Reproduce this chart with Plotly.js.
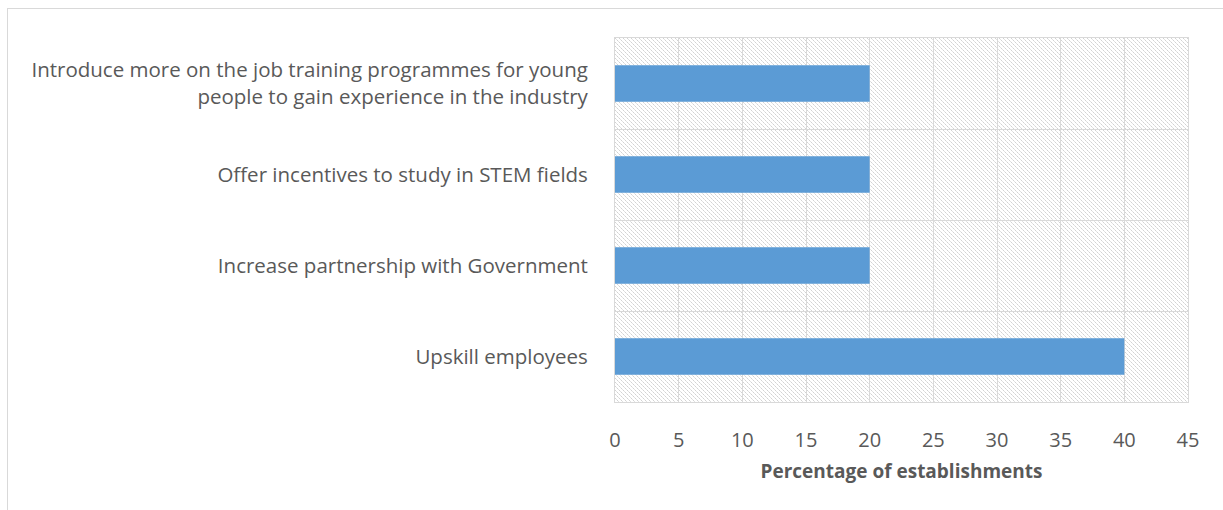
<!DOCTYPE html>
<html>
<head>
<meta charset="utf-8">
<script src="https://cdn.plot.ly/plotly-3.0.1.min.js"></script>
<style>
html,body{margin:0;padding:0;background:#fff;}
#chart{width:1223px;height:510px;}
</style>
</head>
<body>
<div id="chart"></div>
<script>
// Data (bottom to top as drawn)
const categories = [
  "Upskill employees",
  "Increase partnership with Government",
  "Offer incentives to study in STEM fields",
  "Introduce more on the job training programmes for young<br>people to gain experience in the industry"
];
const values = [40, 20, 20, 20];
const xTickValues = [0, 5, 10, 15, 20, 25, 30, 35, 40, 45];
const xTitle = "Percentage of establishments";

// Hatched background tile (decoration)
const tile = '<svg xmlns="http://www.w3.org/2000/svg" width="573" height="364">' +
  '<defs><pattern id="p" width="4" height="4" patternUnits="userSpaceOnUse">' +
  '<rect x="0" y="0" width="4" height="4" fill="#ffffff"/>' +
  '<rect x="0" y="0" width="1" height="1" fill="#d2d2d2"/>' +
  '<rect x="1" y="1" width="1" height="1" fill="#e2e2e2"/>' +
  '<rect x="2" y="2" width="1" height="1" fill="#d2d2d2"/>' +
  '<rect x="3" y="3" width="1" height="1" fill="#e2e2e2"/>' +
  '</pattern></defs>' +
  '<rect width="573" height="364" fill="url(#p)" shape-rendering="crispEdges"/></svg>';
const tileURI = 'data:image/svg+xml;charset=utf-8,' + encodeURIComponent(tile);

const font = "'Open Sans', 'DejaVu Sans', sans-serif";

const trace = {
  type: 'bar',
  orientation: 'h',
  y: categories,
  x: values,
  marker: {color: '#5b9bd5', line: {width: 0}},
  hoverinfo: 'x+y'
};

const layout = {
  width: 1223,
  height: 510,
  margin: {l: 615, r: 35, t: 38, b: 108, pad: 0},
  paper_bgcolor: '#ffffff',
  plot_bgcolor: 'rgba(0,0,0,0)',
  bargap: 0.6,
  showlegend: false,
  font: {family: font, size: 20, color: '#595959'},
  xaxis: {
    range: [0, 45],
    tickvals: xTickValues,
    ticktext: xTickValues.map(String),
    showgrid: true,
    gridcolor: '#d9d9d9',
    gridwidth: 1,
    zeroline: false,
    showline: true,
    linecolor: '#d9d9d9',
    mirror: true,
    ticks: '',
    ticklabelstandoff: 20,
    tickfont: {family: font, size: 20, color: '#595959'},
    title: {text: '<b>' + xTitle + '</b>', font: {family: font, size: 19, color: '#595959'}, standoff: 12},
    fixedrange: true
  },
  yaxis: {
    type: 'category',
    categoryorder: 'array',
    categoryarray: categories,
    tickson: 'boundaries',
    showgrid: true,
    gridcolor: '#d9d9d9',
    gridwidth: 1,
    showline: true,
    linecolor: '#d9d9d9',
    mirror: true,
    ticks: '',
    ticklen: 0,
    ticklabelstandoff: 22,
    tickfont: {family: font, size: 20.5, color: '#595959'},
    automargin: false,
    fixedrange: true
  },
  images: [{
    source: tileURI,
    xref: 'x domain', yref: 'y domain',
    x: 0, y: 1, sizex: 1, sizey: 1,
    xanchor: 'left', yanchor: 'top',
    sizing: 'stretch',
    layer: 'below'
  }],
  shapes: [
    {type: 'line', xref: 'paper', yref: 'paper',
     x0: (8 - 615) / 573, x1: (1223 - 615) / 573,
     y0: (402 - 8.5) / 364, y1: (402 - 8.5) / 364,
     line: {color: '#d9d9d9', width: 1}},
    {type: 'line', xref: 'paper', yref: 'paper',
     x0: (7.5 - 615) / 573, x1: (7.5 - 615) / 573,
     y0: (402 - 8) / 364, y1: (402 - 512) / 364,
     line: {color: '#d9d9d9', width: 1}}
  ]
};

Plotly.newPlot('chart', [trace], layout, {displayModeBar: false, staticPlot: true});
</script>
</body>
</html>
